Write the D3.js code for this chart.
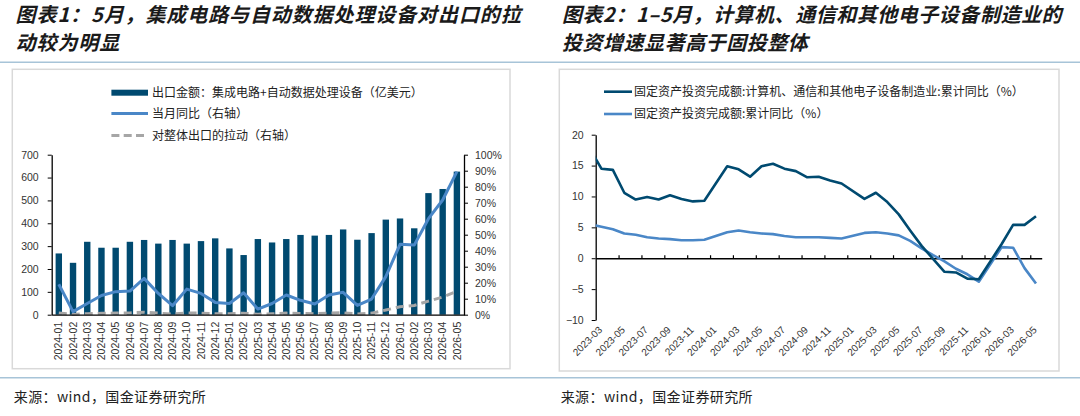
<!DOCTYPE html>
<html>
<head>
<meta charset="utf-8">
<script src="https://cdn.jsdelivr.net/npm/d3@7"></script>
<style>
  body { margin: 0; background: #fff; }
  text { font-family: "Liberation Sans", Arial, sans-serif; }
  .cjk { font-family: "Noto Sans CJK SC", sans-serif; }
</style>
</head>
<body>
<div id="canvas"></div>
<script>
// ---- data: chart 1 (exports) ----
var months1 = ["2024-01","2024-02","2024-03","2024-04","2024-05","2024-06","2024-07","2024-08","2024-09","2024-10","2024-11","2024-12",
  "2025-01","2025-02","2025-03","2025-04","2025-05","2025-06","2025-07","2025-08","2025-09","2025-10","2025-11","2025-12",
  "2026-01","2026-02","2026-03","2026-04","2026-05"];
// 出口金额 (亿美元)
var exportValue = [268,227,319,293,293,319,327,311,327,311,322,334,290,261,331,316,331,349,346,349,373,328,357,416,421,378,532,550,626];
// 当月同比 (%)
var exportYoY = [19,1.9,7,12,14.4,14.8,22.7,13.3,5.6,16,13.3,7.7,7,13.7,3.5,7,12.3,9,6.7,12.3,14,5.8,9.8,23.8,44,43.5,60,71.7,89.4];
// 对整体出口的拉动 (%)
var exportPull = [1.0,0.2,0.6,0.9,1.0,1.1,1.6,1.0,0.4,1.1,1.0,0.6,0.6,0.9,0.3,0.6,1.0,0.8,0.6,1.0,1.2,0.5,1.0,2.9,5.0,5.8,8.5,11.0,14.6];
var yLeftTicks1 = [0,100,200,300,400,500,600,700];
var yRightTicks1 = [0,10,20,30,40,50,60,70,80,90,100];

// ---- data: chart 2 (FAI, cumulative yoy %) ----
var months2 = ["2023-02","2023-03","2023-04","2023-05","2023-06","2023-07","2023-08","2023-09","2023-10","2023-11","2023-12",
  "2024-01","2024-02","2024-03","2024-04","2024-05","2024-06","2024-07","2024-08","2024-09","2024-10","2024-11","2024-12",
  "2025-01","2025-02","2025-03","2025-04","2025-05","2025-06","2025-07","2025-08","2025-09","2025-10","2025-11","2025-12",
  "2026-01","2026-02","2026-03","2026-04","2026-05"];
var faiElectronics = [17.7,14.5,14.3,10.6,9.5,9.9,9.5,10.2,9.6,9.2,9.3,
  null,14.9,14.4,13.2,14.9,15.3,14.5,14.1,13.1,13.2,12.6,12.1,
  null,9.6,10.6,9.1,7.1,4.5,2.0,-0.1,-2.2,-2.3,-3.3,-3.4,
  null,2.3,5.4,5.4,6.8];
var faiTotal = [5.5,5.1,4.7,4.0,3.8,3.4,3.2,3.1,2.9,2.9,3.0,
  null,4.2,4.5,4.2,4.0,3.9,3.6,3.4,3.4,3.4,3.3,3.2,
  null,4.1,4.2,4.0,3.7,2.8,1.6,0.5,-0.5,-1.7,-2.6,-3.8,
  null,1.8,1.7,-1.6,-4.1];
var yTicks2 = [-10,-5,0,5,10,15,20];
var xTickLabels2 = months2.slice(1).filter((m, i) => i % 2 === 0);

var w = 1080, h = 416;
var darkBlue = "#004a70", lightBlue = "#4a87c7", grey = "#a6a6a6", frameCol = "#d9d9d9", sepCol = "#a7c4d8";

var svg = d3.select("#canvas").append("svg")
  .attr("width", w).attr("height", h)
  .style("background-color", "#fff");

// separators + frames
svg.append("line").attr("x1", 0).attr("x2", w).attr("y1", 62.3).attr("y2", 62.3)
  .attr("stroke", sepCol).attr("stroke-width", 1.6);
svg.append("line").attr("x1", 0).attr("x2", w).attr("y1", 377.7).attr("y2", 377.7)
  .attr("stroke", sepCol).attr("stroke-width", 1.6);
svg.append("rect").attr("x", 12.3).attr("y", 69.3).attr("width", 497.7).attr("height", 299.4)
  .attr("fill", "none").attr("stroke", frameCol).attr("stroke-width", 1.5);
svg.append("rect").attr("x", 559.3).attr("y", 69.3).attr("width", 499.7).attr("height", 301.7)
  .attr("fill", "none").attr("stroke", frameCol).attr("stroke-width", 1.5);

// titles: spacing picked so the first line spans the same width as in the original
function title(x, lines, target) {
  var ts = lines.map((t, i) => svg.append("text").attr("class", "cjk")
      .attr("x", x).attr("y", 22 + i * 27.5)
      .style("font-size", "20px").style("font-weight", "bold").style("font-style", "italic")
      .style("fill", "#1a1a1a")
      .text(t));
  var natural = ts[0].node().getComputedTextLength();
  var sp = (target - natural) / lines[0].length;
  ts.forEach(t => t.style("letter-spacing", sp + "px"));
}
title(15.6, ["图表1：5月，集成电路与自动数据处理设备对出口的拉", "动较为明显"], 506);
title(562, ["图表2：1–5月，计算机、通信和其他电子设备制造业的", "投资增速显著高于固投整体"], 500);

// footers
[13.8, 560.7].forEach(x => {
  svg.append("text").attr("class", "cjk").attr("x", x).attr("y", 402)
    .style("font-size", "14px").style("fill", "#222").style("letter-spacing", "0.4px")
    .text("来源：wind，国金证券研究所");
});

// ================= chart 1 =================
var L1 = 51.7, R1 = 464, T1 = 154.7, B1 = 314.7;
var x1 = d3.scaleBand().domain(months1).range([L1, R1]).paddingInner(0.55).paddingOuter(0.275);
var yL1 = d3.scaleLinear().domain([0, 700]).range([B1, T1]);
var yR1 = d3.scaleLinear().domain([0, 100]).range([B1, T1]);
var cx1 = d => x1(d) + x1.bandwidth() / 2;

svg.append("g").selectAll("rect").data(months1).join("rect")
  .attr("x", d => x1(d)).attr("width", x1.bandwidth())
  .attr("y", (d, i) => yL1(exportValue[i]))
  .attr("height", (d, i) => B1 - yL1(exportValue[i]))
  .attr("fill", darkBlue);

var pull = d3.line().x((d, i) => cx1(months1[i])).y(d => yR1(d));
svg.append("path").datum(exportPull).attr("d", pull)
  .attr("fill", "none").attr("stroke", grey).attr("stroke-width", 3)
  .attr("stroke-dasharray", "8,5");
svg.append("path").datum(exportYoY).attr("d", pull)
  .attr("fill", "none").attr("stroke", lightBlue).attr("stroke-width", 3)
  .attr("stroke-linejoin", "round");

var axL1 = svg.append("g").attr("transform", `translate(${L1},0)`)
  .call(d3.axisLeft(yL1).tickValues(yLeftTicks1).tickSize(4).tickPadding(9).tickSizeOuter(0));
var axR1 = svg.append("g").attr("transform", `translate(${R1},0)`)
  .call(d3.axisRight(yR1).tickValues(yRightTicks1).tickSize(4).tickPadding(7).tickSizeOuter(0)
    .tickFormat(d => d + "%"));
var axB1 = svg.append("g").attr("transform", `translate(0,${B1})`)
  .call(d3.axisBottom(x1).tickSize(0).tickSizeOuter(0));
axB1.selectAll("text")
  .attr("transform", "rotate(-90)")
  .attr("text-anchor", "end")
  .attr("x", -7).attr("y", 0).attr("dy", "0.35em");
[axL1, axR1, axB1].forEach(a => {
  a.select(".domain").attr("stroke", "#000").attr("stroke-width", 1.3);
  a.selectAll(".tick line").attr("stroke", "#000");
  a.selectAll("text").style("font-size", "10.5px").style("fill", "#333")
    .style("font-family", "'Liberation Sans', Arial, sans-serif");
});

// legend 1
var lg1 = svg.append("g").attr("class", "cjk");
lg1.append("rect").attr("x", 111.4).attr("y", 89.7).attr("width", 36.6).attr("height", 6).attr("fill", darkBlue);
lg1.append("line").attr("x1", 111.4).attr("x2", 148).attr("y1", 113.5).attr("y2", 113.5)
  .attr("stroke", lightBlue).attr("stroke-width", 3);
lg1.append("line").attr("x1", 111.4).attr("x2", 148).attr("y1", 135.6).attr("y2", 135.6)
  .attr("stroke", grey).attr("stroke-width", 3).attr("stroke-dasharray", "8,4.3");
["出口金额：集成电路+自动数据处理设备（亿美元）", "当月同比（右轴）", "对整体出口的拉动（右轴）"]
  .forEach((t, i) => {
    lg1.append("text").attr("x", 152).attr("y", 92.7 + i * 21.5).attr("dy", "0.35em")
      .style("font-size", "12px").style("fill", "#222")
      .style("font-family", "'Noto Sans CJK SC', sans-serif").text(t);
  });

// ================= chart 2 =================
var L2 = 595.7, R2 = 1041.7, T2 = 134.7, B2 = 320;
// index 0 = 2023-03; 2023-02 sits one step left of the plot and gets clipped
var xi = d3.scaleLinear().domain([-0.5, months2.length - 1.5]).range([L2, R2]);
var y2 = d3.scaleLinear().domain([-10, 20]).range([B2, T2]);

svg.append("clipPath").attr("id", "clip2").append("rect")
  .attr("x", L2).attr("y", T2 - 5).attr("width", R2 - L2).attr("height", B2 - T2 + 10);

function series(vals) {
  return vals.map((v, i) => ({ i: i - 1, v: v })).filter(d => d.v !== null);
}
var line2 = d3.line().x(d => xi(d.i)).y(d => y2(d.v));

var axL2 = svg.append("g").attr("transform", `translate(${L2},0)`)
  .call(d3.axisLeft(y2).tickValues(yTicks2).tickSize(4).tickPadding(8).tickSizeOuter(0));
axL2.select(".domain").attr("stroke", "#000").attr("stroke-width", 1.3);
axL2.selectAll(".tick line").attr("stroke", "#000");
axL2.selectAll("text").style("font-size", "10.5px").style("fill", "#333");

// zero axis with inner ticks at category boundaries
var bTicks = d3.range(1.5, months2.length - 2, 2);
var ax0 = svg.append("g").attr("transform", `translate(0,${y2(0)})`)
  .call(d3.axisTop(xi).tickValues(bTicks).tickSize(3).tickFormat("").tickSizeOuter(0));
ax0.select(".domain").attr("stroke", "#000").attr("stroke-width", 1.3);
ax0.selectAll(".tick line").attr("stroke", "#000").attr("stroke-width", 1.2);

svg.append("g").attr("clip-path", "url(#clip2)")
  .selectAll("path").data([[faiTotal, lightBlue], [faiElectronics, darkBlue]]).join("path")
  .attr("d", d => line2(series(d[0])))
  .attr("fill", "none").attr("stroke", d => d[1]).attr("stroke-width", 2.6)
  .attr("stroke-linejoin", "round");

// rotated month labels
svg.append("g").selectAll("text").data(xTickLabels2).join("text")
  .attr("transform", d => `translate(${xi(months2.indexOf(d) - 1) - 1},${B2 + 8}) rotate(-45)`)
  .attr("text-anchor", "end").attr("dy", "0.35em")
  .style("font-size", "10px").style("fill", "#333")
  .text(d => d);

// legend 2
var lg2 = svg.append("g");
[["固定资产投资完成额:计算机、通信和其他电子设备制造业:累计同比（%）", darkBlue],
 ["固定资产投资完成额:累计同比（%）", lightBlue]].forEach((d, i) => {
  var yy = 91.7 + i * 22.3;
  lg2.append("line").attr("x1", 604).attr("x2", 632).attr("y1", yy).attr("y2", yy)
    .attr("stroke", d[1]).attr("stroke-width", 2.6);
  lg2.append("text").attr("x", 634).attr("y", yy).attr("dy", "0.35em")
    .style("font-size", "12px").style("fill", "#222")
    .style("font-family", "'Noto Sans CJK SC', sans-serif").text(d[0]);
});
</script>
</body>
</html>
